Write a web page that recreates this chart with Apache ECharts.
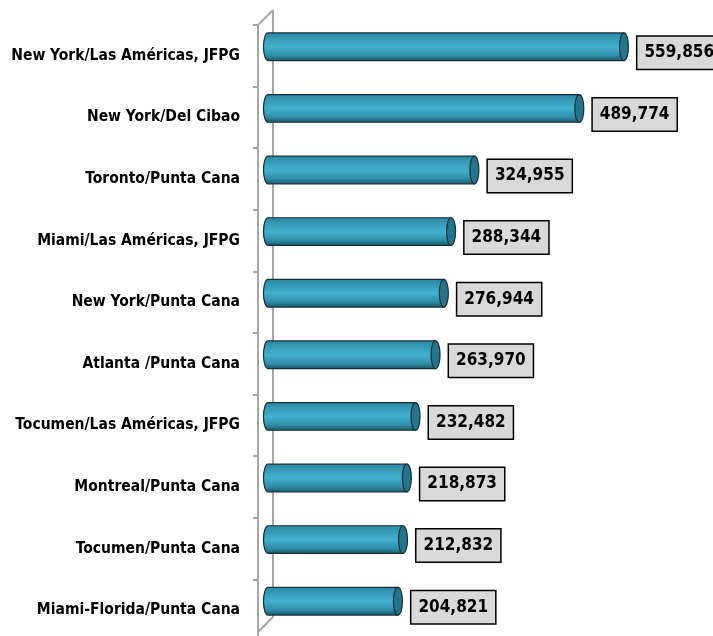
<!DOCTYPE html>
<html>
<head>
<meta charset="utf-8">
<script src="https://cdn.jsdelivr.net/npm/echarts@6/dist/echarts.min.js"></script>
<style>
  html, body { margin: 0; padding: 0; background: #fff; }
  #chart { width: 713px; height: 636px; }
</style>
</head>
<body>
<div id="chart"></div>
<script>
// rutas (de arriba hacia abajo) y pasajeros
const routes = [
  'New York/Las Américas, JFPG',
  'New York/Del Cibao',
  'Toronto/Punta Cana',
  'Miami/Las Américas, JFPG',
  'New York/Punta Cana',
  'Atlanta /Punta Cana',
  'Tocumen/Las Américas, JFPG',
  'Montreal/Punta Cana',
  'Tocumen/Punta Cana',
  'Miami-Florida/Punta Cana'
]
const passengers = [559856, 489774, 324955, 288344, 276944, 263970, 232482, 218873, 212832, 204821]

const FONT = '"Liberation Sans Narrow", "DejaVu Sans Condensed", "Arial Narrow", sans-serif'
const AXIS_GRAY = '#a6a6a6'

const chart = echarts.init(document.getElementById('chart'))

// cilindro horizontal
function renderCylinder(params, api) {
  const v = api.value(0)
  const idx = api.value(1)
  const start = api.coord([0, idx])
  const end = api.coord([v, idx])
  const h = api.size([0, 1])[1] * 0.45
  const rx = 4.5
  const x0 = start[0] - 4
  const x1 = end[0] - rx
  const y = start[1]
  const top = y - h / 2
  const bot = y + h / 2
  const grad = new echarts.graphic.LinearGradient(0, 0, 0, 1, [
    { offset: 0, color: '#2a849d' },
    { offset: 0.2, color: '#3499b5' },
    { offset: 0.5, color: '#42b1cf' },
    { offset: 0.8, color: '#2f8ea8' },
    { offset: 1, color: '#1a5262' }
  ])
  const body = 'M' + x1 + ' ' + top +
    ' L' + x0 + ' ' + top +
    ' A' + rx + ' ' + (h / 2) + ' 0 0 0 ' + x0 + ' ' + bot +
    ' L' + x1 + ' ' + bot + ' Z'
  return {
    type: 'group',
    children: [
      {
        type: 'path',
        shape: { pathData: body },
        style: { fill: grad, stroke: '#14303a', lineWidth: 1.2 }
      },
      {
        type: 'ellipse',
        shape: { cx: x1, cy: y, rx: rx, ry: h / 2 },
        style: { fill: '#23758c', stroke: '#14303a', lineWidth: 1.2 }
      },
      {
        type: 'text',
        x: end[0] + 9,
        y: y + 6,
        style: {
          text: echarts.format.addCommas(v),
          fill: '#000',
          font: 'bold 17px ' + FONT,
          verticalAlign: 'middle',
          align: 'left',
          backgroundColor: '#d9d9d9',
          borderColor: '#000',
          borderWidth: 1.5,
          padding: [8, 7, 7, 7]
        }
      }
    ]
  }
}

const option = {
  backgroundColor: '#fff',
  animation: false,
  grid: [
    { left: 272, top: 16, height: 616, right: 59, outerBoundsMode: 'none' },
    { left: 258, top: 25, height: 616, right: 59, outerBoundsMode: 'none' }
  ],
  xAxis: [
    { gridIndex: 0, type: 'value', min: 0, max: 600000, show: false },
    { gridIndex: 1, type: 'value', min: 0, max: 600000, show: false }
  ],
  yAxis: [
    { gridIndex: 0, type: 'category', data: routes, inverse: true, show: false },
    {
      gridIndex: 1,
      type: 'category',
      data: routes,
      inverse: true,
      axisLine: { show: true, lineStyle: { color: AXIS_GRAY, width: 2 } },
      axisTick: { show: true, length: 5, lineStyle: { color: AXIS_GRAY, width: 2 } },
      axisLabel: {
        color: '#000',
        fontFamily: FONT,
        fontWeight: 'bold',
        fontSize: 15.5,
        margin: 18
      }
    }
  ],
  graphic: [
    { type: 'line', z: 0, shape: { x1: 273, y1: 10, x2: 273, y2: 617 }, style: { stroke: AXIS_GRAY, lineWidth: 2 } },
    { type: 'line', z: 0, shape: { x1: 273, y1: 10, x2: 258, y2: 25 }, style: { stroke: AXIS_GRAY, lineWidth: 2 } },
    { type: 'line', z: 0, shape: { x1: 273, y1: 617, x2: 258, y2: 632 }, style: { stroke: AXIS_GRAY, lineWidth: 2 } }
  ],
  series: [
    {
      type: 'custom',
      xAxisIndex: 0,
      yAxisIndex: 0,
      z: 5,
      renderItem: renderCylinder,
      encode: { x: 0, y: 1 },
      data: passengers.map((v, i) => [v, i])
    }
  ]
}

chart.setOption(option)
window.addEventListener('resize', () => chart.resize())
</script>
</body>
</html>
